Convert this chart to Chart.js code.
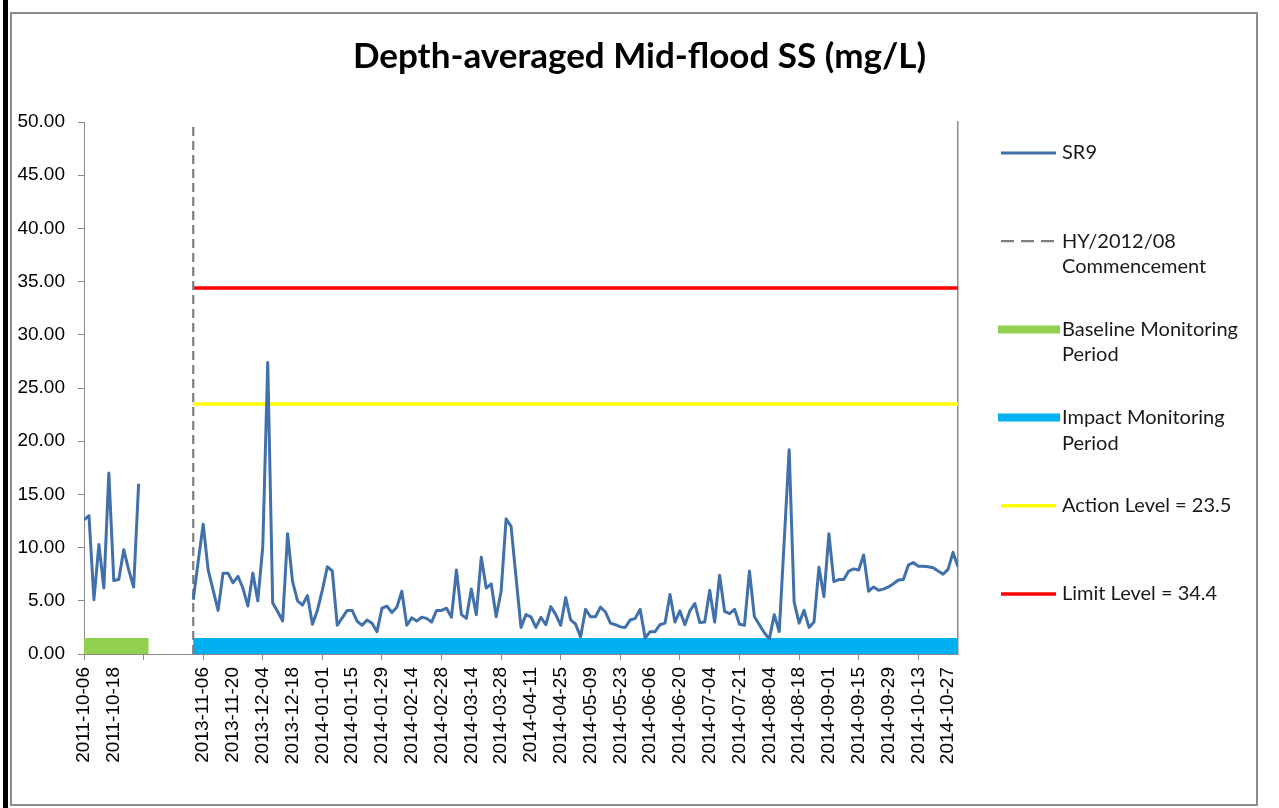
<!DOCTYPE html>
<html>
<head>
<meta charset="utf-8">
<script src="https://cdn.jsdelivr.net/npm/chart.js@4.4.1/dist/chart.umd.min.js"></script>
<style>
  html, body { margin: 0; padding: 0; background: #fff; }
  #wrap { position: relative; width: 1279px; height: 808px; }
</style>
</head>
<body>
<div id="wrap"><canvas id="chart" width="1279" height="808"></canvas></div>
<script>
// SR9 depth-averaged mid-flood SS (mg/L), one value per sampling day
const baselineSS = [12.6, 13.0, 5.1, 10.3, 6.2, 17.0, 6.9, 7.0, 9.8, 7.9, 6.3, 16.0];
const impactSS = [
  5.1, 8.7, 12.2, 7.9, 6.0, 4.1, 7.6, 7.6, 6.7, 7.3,
  6.2, 4.5, 7.6, 5.0, 10.1, 27.4, 4.8, 4.0, 3.1, 11.3,
  6.8, 5.0, 4.6, 5.5, 2.8, 4.1, 6.0, 8.2, 7.8, 2.7,
  3.4, 4.1, 4.1, 3.1, 2.7, 3.2, 2.9, 2.1, 4.3, 4.5,
  3.9, 4.4, 5.9, 2.7, 3.4, 3.1, 3.45, 3.35, 3.0, 4.1,
  4.1, 4.3, 3.45, 7.9, 3.7, 3.35, 6.1, 3.7, 9.1, 6.2,
  6.6, 3.5, 5.9, 12.7, 12.0, 7.2, 2.5, 3.7, 3.5, 2.5,
  3.45, 2.75, 4.45, 3.7, 2.7, 5.3, 3.2, 2.8, 1.6, 4.2,
  3.5, 3.5, 4.4, 3.95, 2.9, 2.75, 2.55, 2.5, 3.2, 3.35,
  4.2, 1.5, 2.1, 2.1, 2.75, 2.9, 5.6, 3.0, 4.05, 2.75,
  4.05, 4.75, 2.95, 3.0, 6.0, 3.0, 7.4, 4.0, 3.8, 4.2,
  2.8, 2.7, 7.8, 3.5, 2.75, 2.0, 1.4, 3.7, 2.1, 10.6,
  19.2, 4.9, 2.9, 4.1, 2.5, 3.0, 8.15, 5.4, 11.3, 6.8,
  7.0, 7.0, 7.8, 8.0, 7.9, 9.3, 5.9, 6.3, 6.0, 6.1,
  6.3, 6.6, 6.95, 7.0, 8.35, 8.6, 8.25, 8.25, 8.2, 8.1,
  7.8, 7.5, 7.95, 9.55, 8.2
];
const gapSlots = 10;          // empty categories between 2011 and 2013
const labelEvery = 6;         // one date label every 6 categories
const tickLabels = [
  '2011-10-06', '2011-10-18', '', '',
  '2013-11-06', '2013-11-20', '2013-12-04', '2013-12-18',
  '2014-01-01', '2014-01-15', '2014-01-29', '2014-02-14', '2014-02-28',
  '2014-03-14', '2014-03-28', '2014-04-11', '2014-04-25', '2014-05-09',
  '2014-05-23', '2014-06-06', '2014-06-20', '2014-07-04', '2014-07-21',
  '2014-08-04', '2014-08-18', '2014-09-01', '2014-09-15', '2014-09-29',
  '2014-10-13', '2014-10-27'
];
const actionLevel = 23.5;
const limitLevel = 34.4;
const periodLevel = 0.75;
const baselinePeriodEnd = 13;

const sr9 = baselineSS.concat(Array(gapSlots).fill(null), impactSS);
const lastIdx = sr9.length - 1;
const startIdx = baselineSS.length + gapSlots; // HY/2012/08 commencement

const grey = '#8a8a8a';
const txt = '#1a1a1a';
const axisFont = { family: 'Liberation Sans', size: 19 };

const seg = (x0, x1, y) => [{ x: x0, y: y }, { x: x1, y: y }];

const datasets = [
  {
    label: 'SR9', order: 0,
    data: sr9.map((v, i) => ({ x: i, y: v })),
    borderColor: '#4170aa', borderWidth: 3, pointRadius: 0,
    borderJoinStyle: 'round', spanGaps: false
  },
  {
    label: 'HY/2012/08\nCommencement', order: 1,
    data: [{ x: startIdx, y: 0 }, { x: startIdx, y: 50 }],
    borderColor: '#7f7f7f', borderWidth: 2.2, borderDash: [9, 5], pointRadius: 0
  },
  {
    label: 'Baseline Monitoring\nPeriod', order: 2,
    data: seg(0, baselinePeriodEnd, periodLevel),
    borderColor: '#92d050', borderWidth: 16, borderCapStyle: 'butt', pointRadius: 0
  },
  {
    label: 'Impact Monitoring\nPeriod', order: 2,
    data: seg(startIdx, lastIdx, periodLevel),
    borderColor: '#00b0f0', borderWidth: 16, borderCapStyle: 'butt', pointRadius: 0
  },
  {
    label: 'Action Level = ' + actionLevel, order: 3,
    data: seg(startIdx, lastIdx, actionLevel),
    borderColor: '#ffff00', borderWidth: 3.5, pointRadius: 0
  },
  {
    label: 'Limit Level = ' + limitLevel, order: 3,
    data: seg(startIdx, lastIdx, limitLevel),
    borderColor: '#ff0000', borderWidth: 3.5, pointRadius: 0
  }
];

// white page, grey frame and the black bar on the left
const framePlugin = {
  id: 'frame',
  beforeDraw(chart) {
    const c = chart.ctx;
    c.save();
    c.fillStyle = '#fff';
    c.fillRect(0, 0, chart.width, chart.height);
    c.fillStyle = '#000';
    c.fillRect(3, 0, 5, chart.height);
    c.strokeStyle = '#8c8c8c';
    c.lineWidth = 2;
    c.strokeRect(11, 13, 1246, 792);
    c.restore();
  }
};

// legend on the right, one item every ~88px
const legendPlugin = {
  id: 'sideLegend',
  afterDraw(chart) {
    const c = chart.ctx;
    c.save();
    c.font = '20px Lato';
    c.textBaseline = 'middle';
    c.fillStyle = txt;
    chart.data.datasets.forEach((ds, i) => {
      const y = 153 + i * 88.2;
      const thick = ds.borderWidth > 8;
      c.beginPath();
      c.strokeStyle = ds.borderColor;
      c.lineWidth = thick ? 8 : ds.borderWidth;
      c.lineCap = 'butt';
      c.setLineDash(ds.borderDash ? [13, 7] : []);
      c.moveTo(thick ? 998 : 1001, y);
      c.lineTo(thick ? 1060 : 1056, y);
      c.stroke();
      c.setLineDash([]);
      ds.label.split('\n').forEach((line, k) => {
        c.fillText(line, 1062, y + k * 25.5);
      });
    });
    c.restore();
  }
};

new Chart(document.getElementById('chart'), {
  type: 'line',
  data: { datasets: datasets },
  options: {
    responsive: false,
    animation: false,
    devicePixelRatio: 1,
    layout: { padding: 0 },
    plugins: {
      legend: { display: false },
      tooltip: { enabled: false },
      title: {
        display: true,
        text: 'Depth-averaged Mid-flood SS (mg/L)',
        color: '#000',
        font: { family: 'Lato', size: 35, weight: 'bold' },
        padding: { top: 36, bottom: 44 }
      }
    },
    scales: {
      x: {
        type: 'linear',
        min: 0, max: lastIdx,
        afterFit: s => { s.height = 154; },
        ticks: {
          stepSize: labelEvery,
          autoSkip: false,
          includeBounds: false,
          minRotation: 90, maxRotation: 90,
          padding: 7,
          color: '#000',
          font: axisFont,
          callback: v => tickLabels[v / labelEvery] || ''
        },
        grid: {
          drawOnChartArea: false,
          tickLength: 6,
          color: ctx => (ctx.tick && ctx.tick.value % (2 * labelEvery) === 0) ? grey : 'rgba(0,0,0,0)'
        },
        border: { color: grey, width: 1 }
      },
      y: {
        min: 0, max: 50,
        afterFit: s => { s.width = 84; },
        ticks: {
          stepSize: 5,
          padding: 13,
          color: '#000',
          font: axisFont,
          callback: v => v.toFixed(2)
        },
        grid: { drawOnChartArea: false, tickLength: 6, color: grey },
        border: { color: grey, width: 1 }
      },
      y2: {
        // empty right axis: its line closes the plot, its width holds the legend
        position: 'right',
        min: 0, max: 50,
        afterFit: s => { s.width = 321; },
        ticks: { display: false },
        grid: { display: false },
        border: { display: true, color: grey, width: 1.5 }
      }
    }
  },
  plugins: [framePlugin, legendPlugin]
});
</script>
</body>
</html>
